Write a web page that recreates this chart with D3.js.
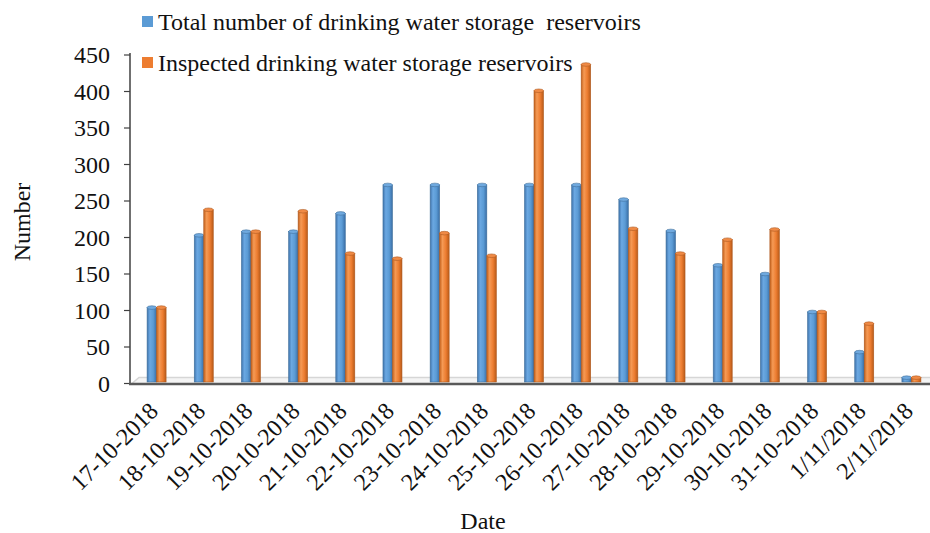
<!DOCTYPE html>
<html><head><meta charset="utf-8">
<script src="https://cdn.jsdelivr.net/npm/d3@7/dist/d3.min.js"></script>
<style>body{margin:0;background:#fff}svg{display:block}text{font-family:"Liberation Serif","Times New Roman",serif;fill:#111}</style>
</head><body><svg id="c" width="930" height="533"></svg>
<script>
const categories = ["17-10-2018","18-10-2018","19-10-2018","20-10-2018","21-10-2018","22-10-2018","23-10-2018","24-10-2018","25-10-2018","26-10-2018","27-10-2018","28-10-2018","29-10-2018","30-10-2018","31-10-2018","1/11/2018","2/11/2018"];
const totalReservoirs = [104,203,208,208,233,272,272,272,272,272,252,209,162,150,98,43,8];
const inspectedReservoirs = [104,238,208,236,178,171,206,175,401,437,212,178,197,211,98,82,8];
const yTicks = [0,50,100,150,200,250,300,350,400,450];
const seriesNames = ["Total number of drinking water storage  reservoirs","Inspected drinking water storage reservoirs"];
const seriesColors = ["#5B9BD5","#ED7D31"];

const svg = d3.select("#c");
const y = d3.scaleLinear().domain([0,450]).range([383.5,55]);
const x = d3.scaleBand().domain(categories).range([133,935]).padding(0);
const barW = 9.5;

// gradients
const defs = svg.append("defs");
const grads = [["#3f74ad","#6ba8e2","#5b9bd5","#3a6ea6"],["#c4611c","#f59a55","#ed7d31","#b85a18"]];
grads.forEach((g,i)=>{
  const lg = defs.append("linearGradient").attr("id","g"+i).attr("x1","0").attr("x2","1").attr("y1","0").attr("y2","0");
  lg.append("stop").attr("offset","0").attr("stop-color",g[0]);
  lg.append("stop").attr("offset","0.3").attr("stop-color",g[1]);
  lg.append("stop").attr("offset","0.65").attr("stop-color",g[2]);
  lg.append("stop").attr("offset","1").attr("stop-color",g[3]);
});

// floor
svg.append("path").attr("d",`M132,${y(0)} L139,${y(0)-6} L930,${y(0)-6} L930,${y(0)} Z`)
  .attr("fill","#f4f4f4").attr("stroke","none");
svg.append("path").attr("d",`M132,${y(0)} L139,${y(0)-6} L930,${y(0)-6}`)
  .attr("fill","none").attr("stroke","#d6d6d6").attr("stroke-width",1.5);

// bars
const series = [totalReservoirs, inspectedReservoirs];
series.forEach((vals,si)=>{
  const g = svg.append("g");
  const bx = d => x(d) + x.bandwidth()/2 - barW + si*barW;
  g.selectAll("rect").data(categories).join("rect")
    .attr("x", d=>bx(d)).attr("width", barW)
    .attr("y", (d,i)=>y(vals[i])).attr("height",(d,i)=>y(0)-1.5-y(vals[i]))
    .attr("fill","url(#g"+si+")")
    .attr("stroke", si==0?"#41719c":"#ae5a21").attr("stroke-width",0.6);
  g.selectAll("ellipse").data(categories).join("ellipse")
    .attr("cx", d=>bx(d)+barW/2).attr("cy",(d,i)=>y(vals[i]))
    .attr("rx", barW/2).attr("ry",1.8)
    .attr("fill", si==0?"#6fa9df":"#f08a45")
    .attr("stroke", si==0?"#41719c":"#ae5a21").attr("stroke-width",0.6);
});

// y axis
svg.append("line").attr("x1",130).attr("x2",130).attr("y1",53).attr("y2",y(0)+1).attr("stroke","#404040").attr("stroke-width",1.5);
svg.selectAll(".yt").data(yTicks).join("line").attr("class","yt")
  .attr("x1",124).attr("x2",130).attr("y1",d=>y(d)).attr("y2",d=>y(d)).attr("stroke","#404040").attr("stroke-width",1.2);
svg.selectAll(".yl").data(yTicks).join("text").attr("class","yl")
  .attr("x",110).attr("y",d=>y(d)).attr("dy","0.35em").attr("text-anchor","end")
  .attr("font-size",24).text(d=>d);

// x axis
svg.append("line").attr("x1",129).attr("x2",930).attr("y1",y(0)+0.5).attr("y2",y(0)+0.5).attr("stroke","#595959").attr("stroke-width",2.5);
svg.selectAll(".xl").data(categories).join("text").attr("class","xl")
  .attr("transform",d=>`translate(${x(d)+x.bandwidth()/2+3},${y(0)+29}) rotate(-45)`)
  .attr("text-anchor","end").attr("font-size",24).text(d=>d);

// axis titles
svg.append("text").attr("x",483).attr("y",529).attr("text-anchor","middle").attr("font-size",24).text("Date");
svg.append("text").attr("transform","translate(30,222) rotate(-90)").attr("text-anchor","middle").attr("font-size",24).text("Number");

// legend
seriesNames.forEach((n,i)=>{
  const ly = 22 + i*41;
  svg.append("rect").attr("x",142).attr("y",ly-6).attr("width",11).attr("height",11).attr("fill",seriesColors[i]);
  svg.append("text").attr("x",158).attr("y",ly).attr("dy","0.35em").attr("font-size",24)
    .style("white-space","pre").text(n);
});
</script></body></html>
